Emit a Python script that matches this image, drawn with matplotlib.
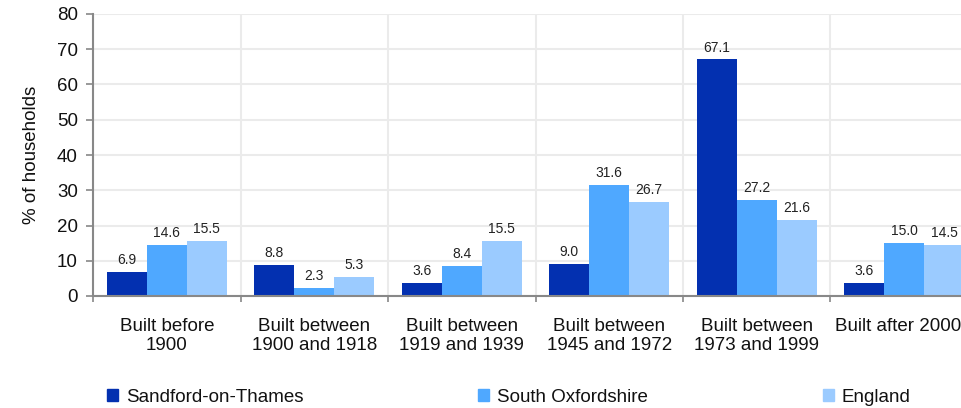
import matplotlib.pyplot as plt
import matplotlib.transforms as mtransforms
from matplotlib.patches import Patch
import numpy as np

plt.rcParams['font.family'] = ['Liberation Sans', 'DejaVu Sans']

# Dwelling age, % of households
categories = ['Built before\n1900', 'Built between\n1900 and 1918', 'Built between\n1919 and 1939',
              'Built between\n1945 and 1972', 'Built between\n1973 and 1999', 'Built after 2000']
sandford = [6.9, 8.8, 3.6, 9.0, 67.1, 3.6]
south_oxon = [14.6, 2.3, 8.4, 31.6, 27.2, 15.0]
england = [15.5, 5.3, 15.5, 26.7, 21.6, 14.5]

series_names = ['Sandford-on-Thames', 'South Oxfordshire', 'England']
colors = ['#0330B0', '#4FA8FF', '#9BCBFF']


def main():
    fig = plt.figure(figsize=(9.62, 4.08), dpi=100)
    # right edge of the plot area runs past the figure, as in the original
    ax = fig.add_axes([93 / 962, 112 / 408, 885 / 962, 282 / 408])

    x = np.arange(len(categories))
    w = 0.271
    for i, (vals, col) in enumerate(zip([sandford, south_oxon, england], colors)):
        pos = x + (i - 1) * w
        ax.bar(pos, vals, width=w, color=col, zorder=3)
        for xp, v in zip(pos, vals):
            ax.text(xp, v + 1.4, f'{v:.1f}', ha='center', va='bottom', fontsize=10, color='#222222', zorder=4)

    ax.set_xlim(-0.5, len(categories) - 0.5)
    ax.set_ylim(0, 80)
    ax.set_yticks(range(0, 81, 10))
    ax.set_xticks(x)
    ax.set_xticklabels(categories, fontsize=13.5, color='#111111', linespacing=1.1)
    ax.set_xticks(np.arange(-0.5, len(categories) + 0.5, 1), minor=True)
    ax.tick_params(axis='x', which='major', length=0, pad=16)
    ax.tick_params(axis='x', which='minor', length=4, width=1.2, color='#888888')
    ax.tick_params(axis='y', length=5, width=1.2, color='#888888', labelsize=13.5,
                   labelcolor='#111111', pad=6)

    # last label sits a little left so it stays inside the picture
    last = ax.get_xticklabels()[-1]
    last.set_transform(last.get_transform() + mtransforms.ScaledTranslation(-6 / 100, 0, fig.dpi_scale_trans))

    ax.grid(axis='y', color='#ebebeb', linewidth=1.5, zorder=0)
    ax.grid(axis='x', which='minor', color='#ebebeb', linewidth=1.5, zorder=0)
    ax.grid(axis='x', which='major', visible=False)
    for s in ['top', 'right']:
        ax.spines[s].set_visible(False)
    for s in ['left', 'bottom']:
        ax.spines[s].set_color('#888888')
        ax.spines[s].set_linewidth(1.5)
        ax.spines[s].set_zorder(5)

    ax.set_ylabel('% of households', fontsize=13.5, color='#111111', labelpad=12)

    # legend entries spread across the bottom
    legend_x = [107, 478, 823]
    for name, col, lx in zip(series_names, colors, legend_x):
        fig.legend(handles=[Patch(color=col, label=name)], loc='center left',
                   bbox_to_anchor=(lx / 962, 1 - 397 / 408), frameon=False,
                   borderpad=0, borderaxespad=0, handlelength=0.58, handleheight=0.58,
                   handletextpad=0.42, fontsize=13.5, labelcolor='#111111')

    fig.savefig('out.png', dpi=100)


if __name__ == '__main__':
    main()
